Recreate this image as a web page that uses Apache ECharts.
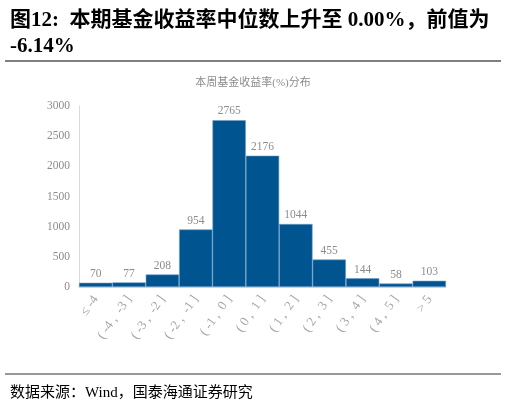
<!DOCTYPE html>
<html><head><meta charset="utf-8">
<script src="https://cdn.jsdelivr.net/npm/echarts@6/dist/echarts.min.js"></script>
<style>html,body{margin:0;padding:0;background:#fff}#c{width:506px;height:405px}</style>
</head><body><div id="c"></div>
<script>
const categories = ['≤ -4','( -4 ,  -3 ]','( -3 ,  -2 ]','( -2 ,  -1 ]','( -1 ,  0 ]','( 0 ,  1 ]','( 1 ,  2 ]','( 2 ,  3 ]','( 3 ,  4 ]','( 4 ,  5 ]','> 5'];
const counts = [70, 77, 208, 954, 2765, 2176, 1044, 455, 144, 58, 103];
const yTicks = {min: 0, max: 3000, interval: 500};
const serif = '"Liberation Serif","DejaVu Serif","Noto Sans CJK SC",serif';
const chart = echarts.init(document.getElementById('c'));
chart.setOption({
  animation: false,
  title: [
    {text: '图12:  本期基金收益率中位数上升至 0.00%，前值为\n-6.14%', left: 5, top: 3,
     textStyle: {fontFamily: serif, fontSize: 21, fontWeight: 'bold', color: '#000', lineHeight: 26}},
    {text: '本周基金收益率(%)分布', left: 'center', top: 73,
     textStyle: {fontFamily: serif, fontSize: 11, fontWeight: 'normal', color: '#8c8c8c'}},
    {text: '数据来源：Wind，国泰海通证券研究', left: 5, top: 381,
     textStyle: {fontFamily: serif, fontSize: 15, fontWeight: 'normal', color: '#000'}}
  ],
  graphic: [
    {type: 'line', shape: {x1: 5, y1: 61, x2: 501, y2: 61}, style: {stroke: '#555', lineWidth: 1.5}},
    {type: 'line', shape: {x1: 5, y1: 374, x2: 501, y2: 374}, style: {stroke: '#333', lineWidth: 1}}
  ],
  grid: {left: 79, right: 60, top: 106, bottom: 118},
  xAxis: {
    type: 'category', data: categories,
    axisLine: {show: true, lineStyle: {color: '#d9d9d9'}},
    axisTick: {show: false},
    axisLabel: {rotate: 55, interval: 0, color: '#a6a6a6', fontSize: 13, fontFamily: serif, margin: 10}
  },
  yAxis: {
    type: 'value', min: yTicks.min, max: yTicks.max, interval: yTicks.interval,
    axisLine: {show: true, lineStyle: {color: '#d9d9d9'}},
    axisTick: {show: false},
    splitLine: {show: false},
    axisLabel: {color: '#8c8c8c', fontSize: 11.5, fontFamily: serif, margin: 9, formatter: v => String(v)}
  },
  series: [{
    type: 'bar', data: counts, barCategoryGap: '0%',
    itemStyle: {color: '#005591', borderColor: '#6d9cc6', borderWidth: 0.6},
    label: {show: true, position: 'top', color: '#8c8c8c', fontSize: 11.5, fontFamily: serif, distance: 3}
  }]
});
</script></body></html>
